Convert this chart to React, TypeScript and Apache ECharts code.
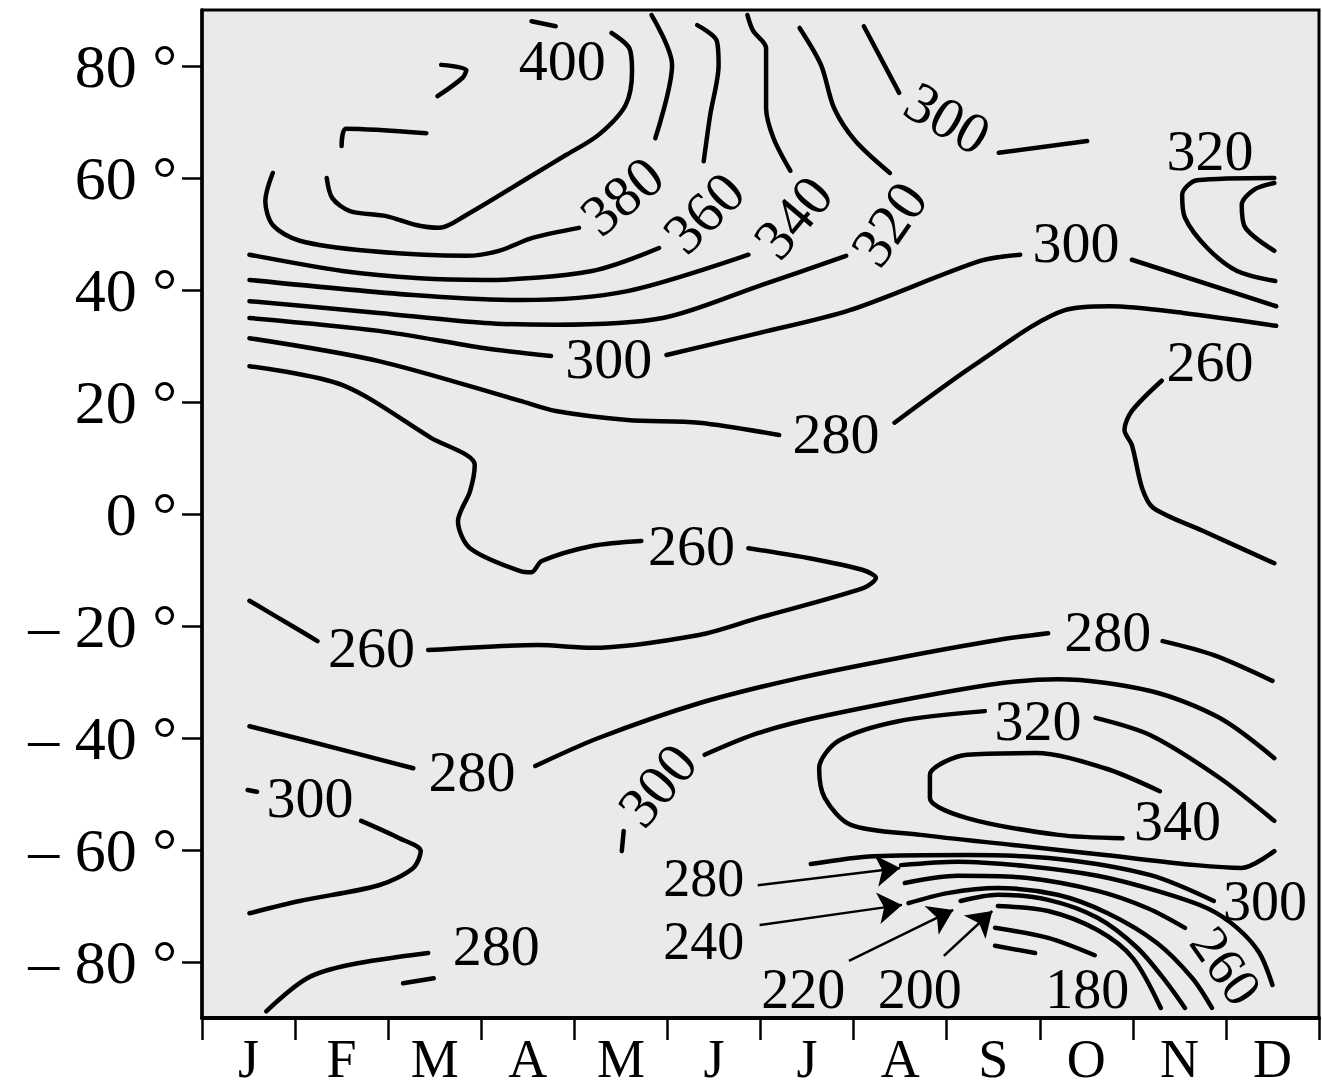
import React, { useEffect, useRef } from "react";
import * as echarts from "echarts";

// Axis categories and ticks
const MONTHS = ["J", "F", "M", "A", "M", "J", "J", "A", "S", "O", "N", "D"];
const LAT_TICKS = [-80, -60, -40, -20, 0, 20, 40, 60, 80];

// Contour segments as [month (0 = start of Jan), latitude]; gaps are left where labels sit
const c400 = [[1.34, 60.0], [1.40, 56.4], [1.59, 54.1], [1.98, 53.2], [2.30, 51.6], [2.55, 51.1], [2.84, 53.4], [3.55, 60.5], [3.91, 64.1], [4.26, 67.7], [4.55, 73.0], [4.62, 79.1], [4.59, 83.2], [4.40, 85.9]];
const c400b = [[3.54, 88.0], [3.80, 87.1]];
const c420a = [[2.57, 80.2], [2.84, 79.3], [2.80, 77.9], [2.53, 74.6]];
const c420b = [[2.41, 68.0], [1.55, 68.8], [1.50, 65.7]];
const c380a = [[0.76, 60.9], [0.68, 55.9], [0.76, 51.6], [1.05, 48.8], [1.77, 47.0], [2.84, 46.1], [3.19, 47.0], [3.55, 49.3], [4.05, 51.1]];
const c380b = [[4.87, 67.1], [5.05, 80.2], [4.83, 89.1]];
const c360a = [[0.51, 46.3], [1.51, 43.4], [2.34, 42.1], [3.04, 41.8], [4.19, 43.4], [4.91, 47.5]];
const c360b = [[5.39, 63.0], [5.46, 71.3], [5.55, 80.2], [5.53, 84.5], [5.32, 87.3]];
const c340a = [[0.51, 41.8], [2.27, 39.1], [3.42, 38.2], [4.57, 39.8], [5.87, 46.3]];
const c340b = [[6.32, 61.3], [6.14, 67.1], [6.06, 72.5], [6.06, 83.2], [5.92, 86.3], [5.86, 89.1]];
const c320a = [[0.51, 38.0], [1.90, 35.9], [3.04, 34.1], [3.80, 33.8], [4.95, 35.0], [5.98, 40.7], [6.92, 46.1]];
const c320b = [[7.39, 60.9], [7.02, 66.6], [6.79, 72.5], [6.65, 80.2], [6.42, 86.8]];
const c300Na = [[7.11, 87.1], [7.49, 75.2]];
const c300Nb = [[8.56, 64.5], [9.51, 66.6]];
const c320NE = [[11.52, 60.0], [10.69, 59.6], [10.53, 57.0], [10.56, 52.9], [10.80, 47.5], [11.12, 43.4], [11.53, 41.6]];
const c340NE = [[11.52, 59.1], [11.30, 57.9], [11.17, 55.2], [11.21, 51.1], [11.52, 47.0]];
const c300a = [[0.51, 35.0], [1.90, 32.7], [3.04, 29.6], [3.75, 28.2]];
const c300b = [[4.99, 28.4], [5.98, 32.3], [6.96, 36.4], [8.36, 45.2], [8.79, 46.3]];
const c300c = [[9.99, 45.4], [11.54, 37.1]];
const c280Na = [[0.51, 31.4], [1.90, 27.3], [3.42, 20.2], [3.80, 18.4], [4.57, 16.8], [5.34, 16.3], [6.20, 14.1]];
const c280Nb = [[7.44, 16.3], [8.36, 27.3], [9.27, 36.4], [9.75, 37.1], [10.54, 35.9], [11.54, 33.6]];
const c260a = [[0.51, 26.4], [1.51, 23.0], [2.46, 13.6], [2.93, 8.8], [2.88, 4.1], [2.75, -1.3], [2.88, -6.1], [3.42, -10.2], [3.54, -10.4], [3.65, -8.4], [4.19, -5.7], [4.72, -4.8]];
const c260b = [[5.87, -6.1], [6.62, -8.2], [7.10, -10.0], [7.24, -11.4], [7.11, -13.2], [5.97, -18.6], [5.34, -21.6], [4.19, -23.9], [3.61, -23.4], [2.43, -24.3]];
const c260c = [[1.24, -22.7], [1.01, -20.4], [0.51, -15.5]];
const c260E = [[10.31, 23.8], [9.99, 18.4], [9.91, 15.0], [9.99, 12.3], [10.10, 4.6], [10.22, 1.1], [10.75, -3.0], [11.52, -8.8]];
const c280Sa = [[0.51, -37.9], [1.13, -40.5], [2.27, -45.4]];
const c280Sb = [[3.58, -45.0], [4.26, -40.0], [5.34, -33.8], [6.41, -29.3], [7.48, -25.7], [8.55, -22.5], [9.09, -21.3]];
const c280Sc = [[10.32, -22.7], [10.87, -25.2], [11.50, -29.8]];
const c300Sa = [[4.51, -60.2], [4.53, -56.6]];
const c300Sb = [[5.40, -43.0], [5.98, -39.1], [6.73, -35.9], [8.46, -30.5], [9.20, -29.5], [10.19, -31.6], [10.93, -36.4], [11.52, -43.6]];
const c320Sa = [[9.60, -36.4], [10.19, -39.5], [10.93, -47.1], [11.52, -54.8]];
const c320Sb = [[8.41, -35.2], [7.48, -37.0], [6.84, -40.5], [6.63, -45.4], [6.69, -50.7], [6.97, -55.5], [7.72, -57.3], [8.71, -59.1], [9.70, -60.9], [10.68, -62.7], [11.17, -63.2], [11.52, -60.2]];
const c340S = [[9.89, -57.9], [9.20, -57.3], [8.22, -54.3], [7.82, -50.7], [7.82, -46.6], [8.22, -43.0], [8.96, -42.7], [9.70, -45.4], [10.29, -49.5]];
const c300Wa = [[0.49, -49.3], [0.59, -49.6]];
const c300Wb = [[1.71, -54.8], [2.12, -57.9], [2.35, -60.2], [2.27, -63.2], [1.90, -66.3], [1.05, -69.1], [0.51, -71.3]];
const c280SW = [[0.69, -88.8], [1.13, -82.9], [1.59, -80.5], [2.43, -78.4]];
const c280SWb = [[2.16, -83.8], [2.49, -82.9]];

// Southern polar spring bundle
const p300 = [[6.54, -62.5], [7.22, -61.1], [8.22, -60.9], [9.20, -61.6], [10.19, -64.5], [10.87, -69.1]];
const p280 = [[7.51, -62.7], [8.12, -62.1], [8.87, -62.9], [9.62, -64.6], [10.26, -67.3], [10.80, -70.4], [11.12, -73.9], [11.36, -78.4], [11.50, -84.1]];
const p260 = [[7.55, -65.9], [8.12, -64.6], [8.87, -65.0], [9.62, -67.3], [10.16, -70.4], [10.56, -73.9]];
const p240 = [[7.59, -69.5], [8.01, -67.7], [8.55, -66.8], [9.19, -68.0], [9.73, -71.3], [10.26, -76.6], [10.64, -82.9], [10.85, -88.2]];
const p220 = [[8.15, -69.1], [8.55, -68.0], [9.09, -68.9], [9.62, -72.1], [10.05, -77.5], [10.37, -83.8], [10.56, -88.2]];
const p200 = [[8.55, -70.0], [9.09, -70.9], [9.62, -74.3], [10.00, -79.3], [10.30, -88.2]];
const p180a = [[8.52, -73.9], [9.09, -75.7], [9.59, -78.8]];
const p180b = [[8.52, -77.1], [8.95, -78.4]];

const CONTOURS = [
  c400, c400b, c420a, c420b, c380a, c380b, c360a, c360b, c340a, c340b, c320a, c320b,
  c300Na, c300Nb, c320NE, c340NE, c300a, c300b, c300c, c280Na, c280Nb,
  c260a, c260b, c260c, c260E, c280Sa, c280Sb, c280Sc, c300Sa, c300Sb,
  c320Sa, c320Sb, c340S, c300Wa, c300Wb, c280SW, c280SWb,
  p300, p280, p260, p240, p220, p200, p180a, p180b,
];

// Contour labels: [text, month, latitude, rotation, font size]
const CONTOUR_LABELS: [string, number, number, number, number][] = [
  ["400", 3.87, 80.9, 0, 58],
  ["380", 4.51, 56.8, 40, 58],
  ["360", 5.39, 53.8, 45, 58],
  ["340", 6.35, 53.0, 50, 58],
  ["320", 7.38, 51.8, 55, 58],
  ["300", 8.01, 70.7, -30, 58],
  ["320", 10.83, 65.0, 0, 58],
  ["300", 9.39, 48.4, 0, 58],
  ["300", 4.37, 27.7, 0, 58],
  ["260", 10.83, 27.3, 0, 58],
  ["280", 6.81, 14.3, 0, 58],
  ["260", 5.26, -5.7, 0, 58],
  ["260", 1.82, -23.9, 0, 58],
  ["280", 9.73, -20.9, 0, 58],
  ["320", 8.98, -36.8, 0, 58],
  ["280", 2.9, -45.9, 0, 58],
  ["300", 4.89, -48.4, 50, 58],
  ["300", 1.16, -50.7, 0, 58],
  ["340", 10.48, -54.8, 0, 58],
  ["300", 11.42, -69.1, 0, 56],
  ["280", 3.16, -77.1, 0, 58],
  ["260", 11.0, -80.7, -55, 54],
  ["280", 5.39, -65.0, 0, 54],
  ["240", 5.39, -76.2, 0, 54],
  ["220", 6.46, -84.8, 0, 56],
  ["200", 7.71, -84.8, 0, 56],
  ["180", 9.51, -84.8, 0, 56],
];

// Pointer arrows from labels to the start of the polar contours: [from, to]
const ARROWS: [number[], number[]][] = [
  [[5.97, -66.3], [7.5, -63.2]],
  [[5.99, -73.4], [7.52, -69.8]],
  [[6.95, -79.8], [8.07, -70.7]],
  [[7.97, -78.9], [8.49, -70.9]],
];

const FONT = "'Liberation Serif', 'Times New Roman', serif";

export default function App() {
  const ref = useRef<HTMLDivElement>(null);

  useEffect(() => {
    if (!ref.current) return;
    const chart = echarts.init(ref.current, null, { renderer: "svg" });

    const lineSeries = CONTOURS.map((pts) => ({
      type: "line",
      xAxisIndex: 0,
      data: pts,
      showSymbol: false,
      symbol: "none",
      smooth: 0.3,
      silent: true,
      z: 2,
      lineStyle: { color: "#000", width: 4.5, cap: "round", join: "round" },
    }));

    const labelSeries = {
      type: "scatter",
      xAxisIndex: 0,
      silent: true,
      z: 4,
      symbolSize: 1,
      itemStyle: { color: "transparent", opacity: 1 },
      data: CONTOUR_LABELS.map(([text, m, lat, rot, size]) => ({
        value: [m, lat],
        label: {
          show: true,
          position: "inside",
          formatter: text,
          rotate: rot,
          fontSize: size,
          lineHeight: 44,
          fontFamily: FONT,
          color: "#000",
          opacity: 1,
        },
      })),
      markLine: {
        silent: true,
        animation: false,
        symbol: ["none", "arrow"],
        symbolSize: 24,
        label: { show: false },
        itemStyle: { color: "#000", opacity: 1 },
        lineStyle: { color: "#000", width: 2.5, type: "solid", opacity: 1 },
        emphasis: { disabled: true },
        data: ARROWS.map(([a, b]) => [{ coord: a }, { coord: b }]),
      },
    };

    chart.setOption({
      animation: false,
      backgroundColor: "#fff",
      grid: {
        left: 202,
        right: 3,
        top: 10,
        bottom: 72,
        show: true,
        backgroundColor: "#eaeaea",
        borderColor: "#000",
        borderWidth: 3,
      },
      xAxis: [
        {
          type: "value",
          min: 0,
          max: 12,
          interval: 1,
          axisLine: { show: true, onZero: false, lineStyle: { color: "#000", width: 4 } },
          axisTick: { show: true, length: 22, lineStyle: { color: "#000", width: 2.5 } },
          axisLabel: { show: false },
          splitLine: { show: false },
        },
        {
          type: "category",
          position: "bottom",
          data: MONTHS,
          boundaryGap: true,
          axisLine: { show: false, onZero: false },
          axisTick: { show: false },
          splitLine: { show: false },
          axisLabel: {
            color: "#000",
            fontSize: 54,
            lineHeight: 42,
            fontFamily: FONT,
            margin: 20,
            interval: 0,
          },
        },
      ],
      yAxis: {
        type: "value",
        min: -90,
        max: 90,
        axisLine: { show: true, onZero: false, lineStyle: { color: "#000", width: 3.5 } },
        axisTick: {
          show: true,
          length: 20,
          customValues: LAT_TICKS,
          lineStyle: { color: "#000", width: 2.5 },
        },
        axisLabel: {
          customValues: LAT_TICKS,
          color: "#000",
          fontSize: 62,
          lineHeight: 46,
          fontFamily: FONT,
          margin: 25,
          formatter: (v: number) => (v < 0 ? `\u2013 ${-v} \u00b0` : `${v} \u00b0`),
        },
        splitLine: { show: false },
      },
      series: [...lineSeries, labelSeries],
    });

    return () => chart.dispose();
  }, []);

  return (
    <div
      ref={ref}
      style={{ position: "fixed", left: 0, top: 0, width: 1322, height: 1090 }}
    />
  );
}
